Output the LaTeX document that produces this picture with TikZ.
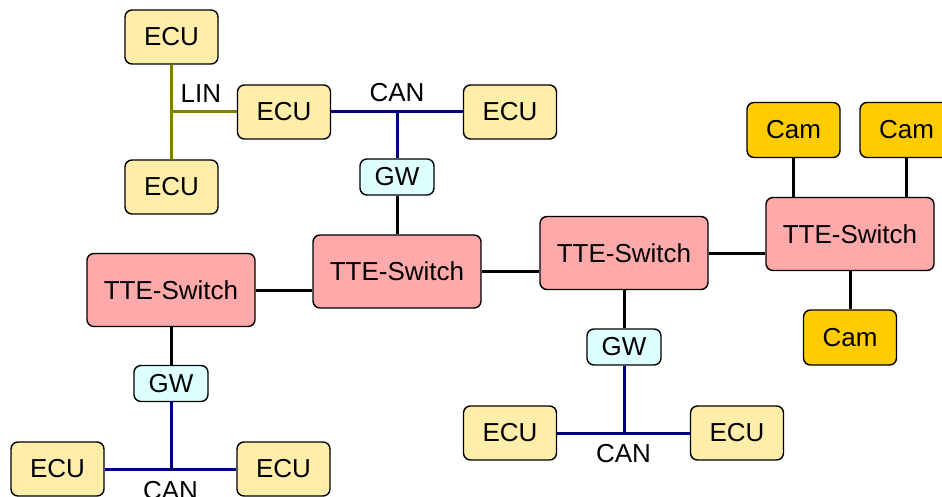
\documentclass[tikz,border=0pt]{standalone}
\usepackage{fontspec}
\setmainfont{Liberation Sans}
\usepackage{tikz}
\usetikzlibrary{calc}

\definecolor{ecufill}{HTML}{FFEDAA}
\definecolor{camfill}{HTML}{FFCC00}
\definecolor{swfill}{HTML}{FFAAAA}
\definecolor{gwfill}{HTML}{DDFFFF}
\definecolor{linbus}{HTML}{808000}
\definecolor{canbus}{HTML}{000080}

\begin{document}
\begin{tikzpicture}[
    x=1pt, y=-1pt,
    box/.style={
        draw=black,
        line width=1.4pt,
        rounded corners=7pt,
        inner sep=0pt,
        font=\fontsize{26}{30}\selectfont
    },
    ecu/.style={box, fill=ecufill, minimum width=93pt, minimum height=54pt},
    cam/.style={box, fill=camfill, minimum width=93pt, minimum height=55pt},
    switch/.style={box, fill=swfill, minimum width=168pt, minimum height=73pt},
    gw/.style={box, fill=gwfill, minimum width=74pt, minimum height=36pt},
    eth/.style={line width=3pt, black},
    lin/.style={line width=3pt, linbus},
    can/.style={line width=3pt, canbus},
    buslabel/.style={inner sep=0pt, text=black, font=\fontsize{26}{30}\selectfont}
]

\useasboundingbox (0,0) rectangle (942,497);
\clip (0,0) rectangle (942,497);

% ---------------- LIN / CAN (oben) ----------------

\node[ecu] (ecuLinTop) at (171.5,37) {ECU};
\node[ecu] (ecuLinBot) at (171.5,187) {ECU};
\node[ecu] (ecuMid) at (284,112) {ECU};
\node[ecu] (ecuCanTop) at (510,112) {ECU};
\node[gw] (gwTop) at (397,177) {GW};

\coordinate (linJoin) at (171.5,112);

% LIN-Bus
\draw[lin] (ecuLinTop) -- (ecuLinBot);
\draw[lin] (linJoin) -- (ecuMid)
    node[buslabel, pos=0.45, above=8pt] (linLabel) {LIN};

% CAN-Bus
\draw[can] (ecuMid) -- (ecuCanTop)
    node[buslabel, midway, above=9pt] (canTopLabel) {CAN};
\draw[can] (gwTop) -- (gwTop |- ecuMid);

% ---------------- TTE-Backbone ----------------

\node[switch] (swLeft) at (171,290) {TTE-Switch};
\node[switch] (swCenter) at (397,271.5) {TTE-Switch};
\node[switch] (swMid) at (624,253) {TTE-Switch};
\node[switch] (swRight) at (850,234) {TTE-Switch};

\draw[eth] (gwTop) -- (swCenter);
\draw[eth] (swLeft.east) -- (swLeft.east -| swCenter.west);
\draw[eth] (swCenter.east) -- (swCenter.east -| swMid.west);
\draw[eth] (swMid.east) -- (swMid.east -| swRight.west);

% Kameras
\node[cam] (camOne) at (793.5,130) {Cam};
\node[cam] (camTwo) at (906.5,130) {Cam};
\node[cam] (camThree) at (850,337.5) {Cam};

\draw[eth] (camOne) -- (camOne |- swRight.north);
\draw[eth] (camTwo) -- (camTwo |- swRight.north);
\draw[eth] (swRight) -- (camThree);

% ---------------- CAN (unten links) ----------------

\node[gw] (gwLeft) at (171,383.5) {GW};
\node[ecu] (ecuLeftA) at (57.5,469) {ECU};
\node[ecu] (ecuLeftB) at (283.5,469) {ECU};

\draw[eth] (swLeft) -- (gwLeft);
\draw[can] (ecuLeftA) -- (ecuLeftB)
    node[buslabel, pos=0.5, below=11pt] (canLeftLabel) {CAN};
\draw[can] (gwLeft) -- (gwLeft |- ecuLeftA);

% ---------------- CAN (unten mitte) ----------------

\node[gw] (gwMid) at (624,347) {GW};
\node[ecu] (ecuMidA) at (510,433) {ECU};
\node[ecu] (ecuMidB) at (737,433) {ECU};

\draw[eth] (swMid) -- (gwMid);
\draw[can] (ecuMidA) -- (ecuMidB)
    node[buslabel, midway, below=10pt] (canMidLabel) {CAN};
\draw[can] (gwMid) -- (gwMid |- ecuMidA);

\end{tikzpicture}
\end{document}
